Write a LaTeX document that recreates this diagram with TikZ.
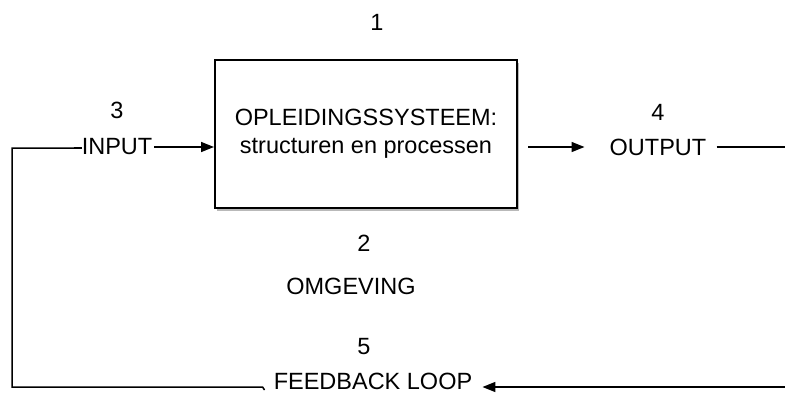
\documentclass[tikz,border=0pt]{standalone}
\usepackage{fontspec}
\setmainfont{Liberation Sans}
\usetikzlibrary{arrows.meta,shadows}
\begin{document}
\begin{tikzpicture}[x=1pt,y=-1pt,
  lbl/.style={font=\fontsize{23.5}{28}\selectfont, inner sep=0pt},
  conn/.style={line width=1.5pt},
  arr/.style={conn,-{Triangle[length=13pt,width=10pt]}},
  sysbox/.style={draw, line width=2pt, fill=white, minimum width=302pt, minimum height=148pt,
    align=center, font=\fontsize{23.5}{28}\selectfont,
    drop shadow={shadow xshift=2pt, shadow yshift=-3pt, fill=black!55}}]
\useasboundingbox (0,0) rectangle (785,394);
\node[sysbox] (sys) at (366,134) {OPLEIDINGSSYSTEEM:\\structuren en processen};
\node[lbl] (n1) at (377,22) {1};
\node[lbl] (n3) at (117,110) {3};
\node[lbl] (input) at (117,147) {INPUT};
\node[lbl] (n4) at (658,112) {4};
\node[lbl] (output) at (658,147) {OUTPUT};
\node[lbl] (n2) at (364,243) {2};
\node[lbl] (omg) at (351,286) {OMGEVING};
\node[lbl] (n5) at (364,347) {5};
\node[lbl] (fb) at (373,381) {FEEDBACK LOOP};
\coordinate (rtop) at (785,147);
\coordinate (rbot) at (785,387);
\coordinate (lbot) at (12,387);
\coordinate (ltop) at (12,148);
\draw[arr] (input.east) ++(2,0) -- (sys.west |- input.east);
\draw[arr] (sys.east |- output.west) ++(10,0) -- ([xshift=-25pt]output.west);
\draw[conn] ([xshift=10pt]output.east) -- (rtop);
\draw[arr] (rbot) -- ([xshift=10pt]fb.east |- rbot);
\draw[conn] ([xshift=-9pt]fb.west |- rbot) ++(0,3) -- ++(-2,-3) -- (lbot) -- (ltop) -- (input.west |- ltop);
\draw[line width=2.5pt] ([xshift=-8pt]input.west |- ltop) -- (input.west |- ltop);
\end{tikzpicture}
\end{document}
